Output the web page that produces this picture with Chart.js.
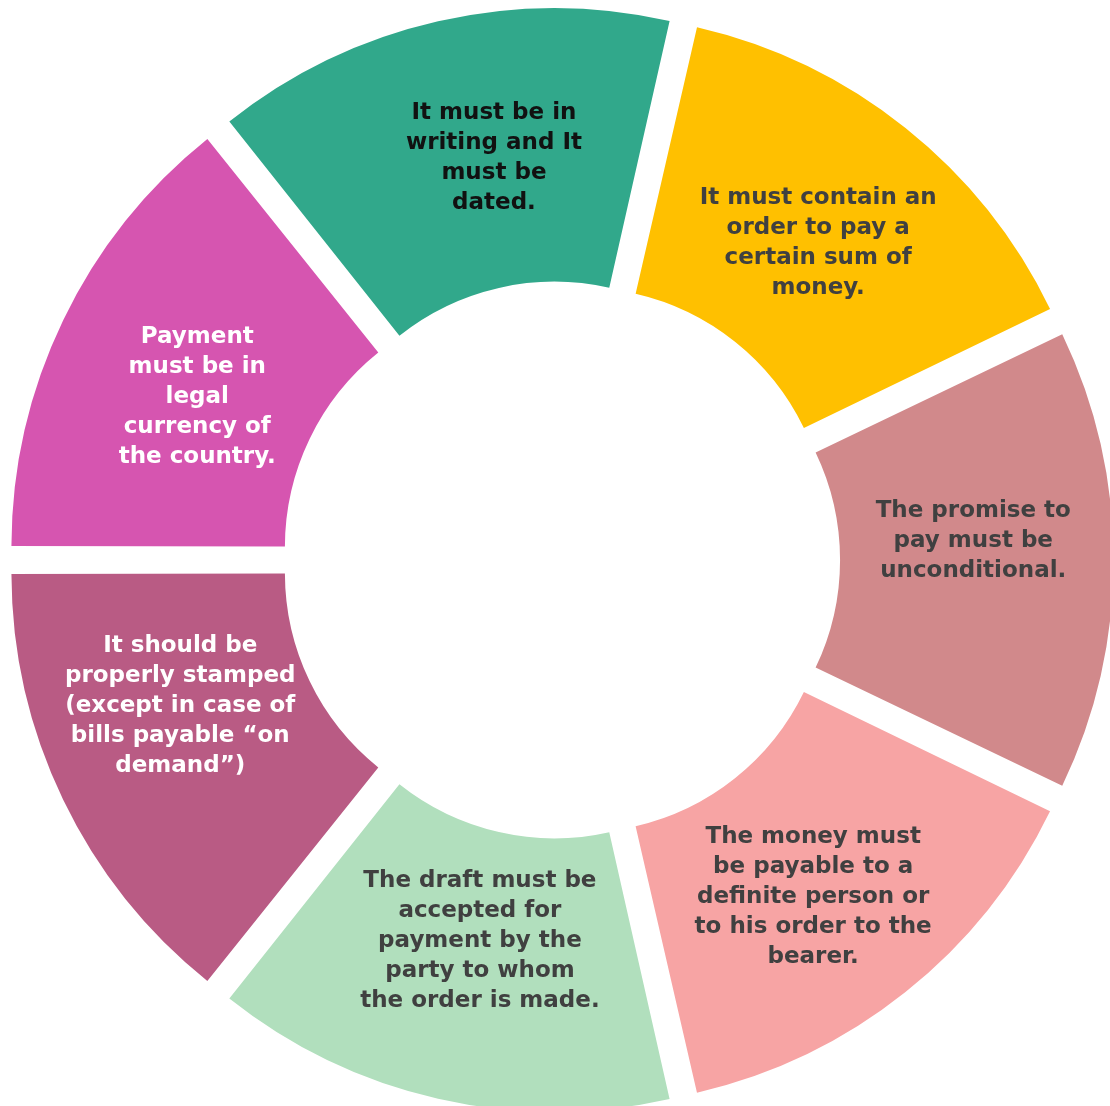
<!DOCTYPE html>
<html>
<head>
<meta charset="utf-8">
<script src="https://cdn.jsdelivr.net/npm/chart.js@4"></script>
<style>
  html, body { margin: 0; padding: 0; background: #fff; overflow: hidden; }
  #wrap { position: absolute; left: 0; top: 0; width: 1122px; height: 1120px; }
</style>
</head>
<body>
<div id="wrap"><canvas id="myChart" width="1122" height="1120"></canvas></div>
<script>
// data
const labels = [
    ["It must be in", "writing and It", "must be", "dated."],
    ["It must contain an", "order to pay a", "certain sum of", "money."],
    ["The promise to", "pay must be", "unconditional."],
    ["The money must", "be payable to a", "definite person or", "to his order to the", "bearer."],
    ["The draft must be", "accepted for", "payment by the", "party to whom", "the order is made."],
    ["It should be", "properly stamped", "(except in case of", "bills payable \u201con", "demand\u201d)"],
    ["Payment", "must be in", "legal", "currency of", "the country."]
]
const values = [1, 1, 1, 1, 1, 1, 1]
const colors = ['#31a88b', '#ffc000', '#d1898b', '#f7a4a4', '#b1dfbd', '#b95b84', '#d655b0']
const textColors = ['#111111', '#404040', '#404040', '#404040', '#404040', '#ffffff', '#ffffff']

const OFFSET = 120

// writes the text of each slice on top of it
const sliceText = {
    id: 'sliceText',
    afterDatasetsDraw(chart, args, opts) {
        const ctx = chart.ctx
        const meta = chart.getDatasetMeta(0)
        ctx.save()
        ctx.font = 'bold 23px "DejaVu Sans"'
        ctx.textAlign = 'center'
        ctx.textBaseline = 'middle'
        meta.data.forEach((arc, i) => {
            const p = arc.getProps(['x', 'y', 'startAngle', 'endAngle', 'innerRadius', 'outerRadius'])
            const mid = (p.startAngle + p.endAngle) / 2
            const r = (p.innerRadius + p.outerRadius) / 2 + OFFSET / 4
            const nudge = opts.nudge[i] || [0, 0]
            const cx = p.x + Math.cos(mid) * r + nudge[0]
            const cy = p.y + Math.sin(mid) * r + nudge[1]
            const lines = chart.data.labels[i]
            const lh = 30
            ctx.fillStyle = textColors[i]
            lines.forEach((t, k) => {
                ctx.fillText(t, cx, cy + (k - (lines.length - 1) / 2) * lh)
            })
        })
        ctx.restore()
    }
}

function chart() {
    const config = {
        type: 'doughnut',
        data: {
            labels: labels,
            datasets: [{
                data: values,
                backgroundColor: colors,
                borderWidth: 0,
                offset: OFFSET
            }]
        },
        options: {
            responsive: false,
            animation: false,
            rotation: -38.57,
            radius: 516,
            cutout: '47%',
            layout: { padding: 0 },
            plugins: {
                legend: { display: false },
                tooltip: { enabled: false },
                title: { display: false },
                sliceText: {
                    // small hand placement of each text block
                    nudge: [[24, -3], [2, 3], [3, -19], [-3, 17], [10, -18], [-12, -32], [5, 15]]
                }
            }
        },
        plugins: [sliceText]
    }
    new Chart(document.getElementById('myChart'), config)
}
chart()
</script>
</body>
</html>
